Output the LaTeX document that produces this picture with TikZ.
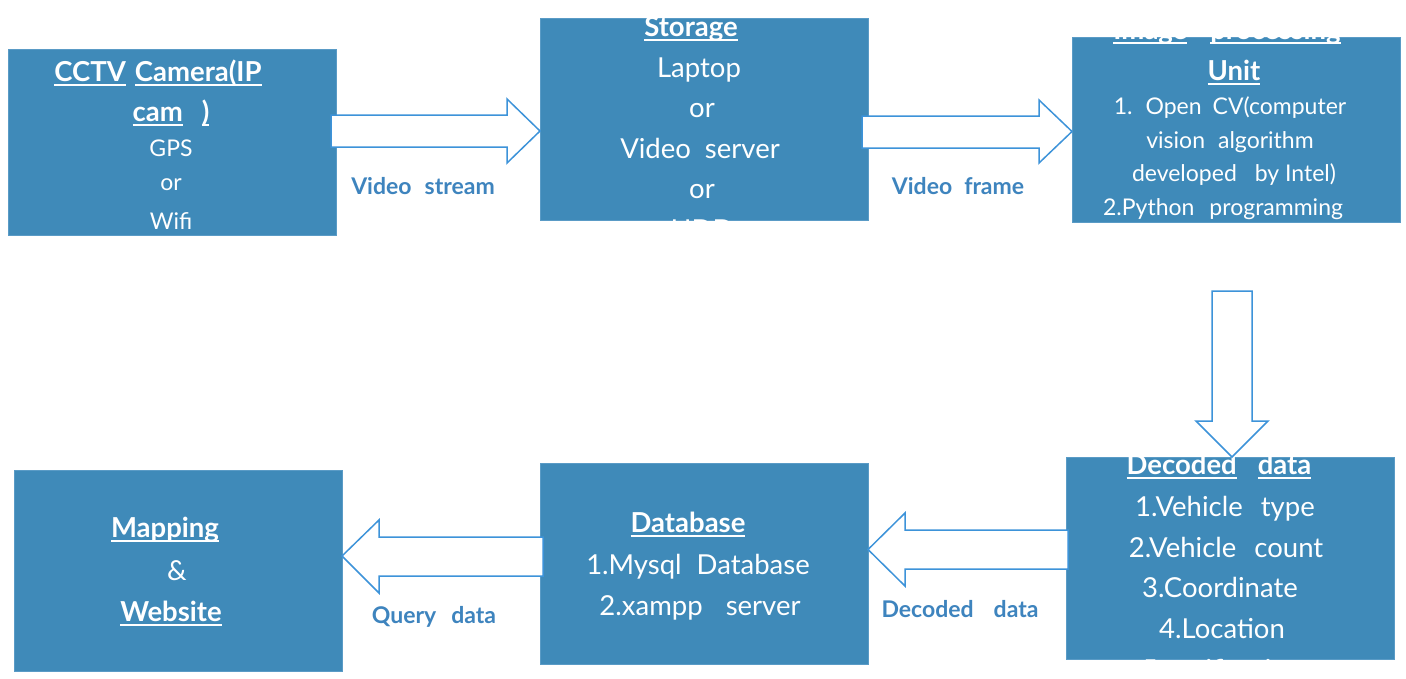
\documentclass[tikz,border=0pt]{standalone}
\usepackage{fontspec}
\setmainfont{Lato}
\usetikzlibrary{calc}
\definecolor{boxblue}{HTML}{3F8AB9}
\definecolor{boxedge}{HTML}{5A9BC6}
\definecolor{arrowblue}{HTML}{3D93D9}
\definecolor{labelblue}{HTML}{3E84BE}
\newcommand\ulw[1]{\setbox0\hbox{#1}\rlap{\rule[-4.5pt]{\wd0}{1.6pt}}\box0}
\begin{document}
\begin{tikzpicture}[x=1pt,y=-1pt,
  blk/.style={fill=boxblue,draw=boxedge,line width=0.8pt,inner sep=0pt,outer sep=0pt,anchor=north west},
  big/.style={text=white,font=\fontsize{27.5}{30}\selectfont,anchor=base,inner sep=0pt},
  bigb/.style={text=white,font=\fontsize{27.5}{30}\selectfont\bfseries,anchor=base,inner sep=0pt},
  small/.style={text=white,font=\fontsize{23}{26}\selectfont,anchor=base,inner sep=0pt},
  lbl/.style={text=labelblue,font=\fontsize{23}{25}\selectfont\bfseries,anchor=base,inner sep=0pt},
  barrow/.style={draw=arrowblue,fill=white,line width=1.5pt,line join=miter}]
\useasboundingbox (0,0) rectangle (1406,678);
\fill[white] (0,0) rectangle (1406,678);

% boxes
\node[blk,minimum width=328pt,minimum height=186pt] (cctv) at (8,49) {};
\node[blk,minimum width=328pt,minimum height=202pt] (stor) at (540,18) {};
\node[blk,minimum width=328pt,minimum height=185pt] (imgp) at (1072,37) {};
\node[blk,minimum width=328pt,minimum height=202pt] (deco) at (1066,457) {};
\node[blk,minimum width=328pt,minimum height=201pt] (dbase) at (540,463) {};
\node[blk,minimum width=328pt,minimum height=201pt] (mapw) at (14,470) {};

% CCTV text
\begin{scope}
\clip (cctv.south west) rectangle (cctv.north east);
\node[bigb] (cctv1) at (158,81) {\ulw{CCTV}\hspace{9pt}\ulw{Camera(IP}};
\node[bigb] (cctv2) at (171,121) {\ulw{cam}\hspace{19pt}\ulw{)}};
\node[small] (cctv3) at (171,156) {GPS};
\node[small] (cctv4) at (171,190) {or};
\node[small] (cctv5) at (171,229) {Wifi};
\end{scope}

% Storage text
\begin{scope}
\clip (stor.south west) rectangle (stor.north east);
\node[bigb] (stor1) at (691,36) {\ulw{Storage}};
\node[big] (stor2) at (699,77) {Laptop};
\node[big] (stor3) at (702,117) {or};
\node[big] (stor4) at (700,158) {Video\hspace{14pt}server};
\node[big] (stor5) at (702,198) {or};
\node[big] (stor6) at (702,239) {HDD};
\end{scope}

% Image processing text
\begin{scope}
\clip (imgp.south west) rectangle (imgp.north east);
\node[bigb] (imgp1) at (1227,39) {\ulw{Image}\hspace{23pt}\ulw{processing}};
\node[bigb] (imgp2) at (1234,80) {\ulw{Unit}};
\node[small] (imgp3) at (1230,114.5) {1.\hspace{13pt}Open\hspace{11pt}CV(computer};
\node[small] (imgp4) at (1230,148) {vision\hspace{13pt}algorithm};
\node[small] (imgp5) at (1234,181.5) {developed\hspace{18pt}by Intel)};
\node[small] (imgp6) at (1223,215) {2.Python\hspace{15pt}programming};
\end{scope}

% Decoded data text
\begin{scope}
\clip (deco.south west) rectangle (deco.north east);
\node[bigb] (deco1) at (1219,474) {\ulw{Decoded}\hspace{21pt}\ulw{data}};
\node[big] (deco2) at (1225,516) {1.Vehicle\hspace{18pt}type};
\node[big] (deco3) at (1226,557) {2.Vehicle\hspace{18pt}count};
\node[big] (deco4) at (1220,597) {3.Coordinate};
\node[big] (deco5) at (1222,638) {4.Location};
\node[big] (deco6) at (1222,679) {5.notification};
\end{scope}

% Database text
\begin{scope}
\clip (dbase.south west) rectangle (dbase.north east);
\node[bigb] (db1) at (688,532) {\ulw{Database}};
\node[big] (db2) at (698,574) {1.Mysql\hspace{15pt}Database};
\node[big] (db3) at (700,615) {2.xampp\hspace{23pt}server};
\end{scope}

% Mapping text
\begin{scope}
\clip (mapw.south west) rectangle (mapw.north east);
\node[bigb] (map1) at (165,537) {\ulw{Mapping}};
\node[big] (map2) at (177,580) {\&};
\node[bigb] (map3) at (171,621) {\ulw{Website}};
\end{scope}

% block arrows
\coordinate (t1) at (stor.west |- 0,131);
\coordinate (t2) at (imgp.west |- 0,131.5);
\coordinate (t3) at (deco.north -| 1232,0);
\coordinate (t4) at (dbase.east |- 0,549.5);
\coordinate (t5) at (mapw.east |- 0,556);
\draw[barrow] (331,115) -- (507,115) -- (507,99) -- (t1) -- (507,163) -- (507,147) -- (331,147) -- cycle;
\draw[barrow] (862,116) -- (1039,116) -- (1039,100) -- (t2) -- (1039,163) -- (1039,148) -- (862,148) -- cycle;
\draw[barrow] (1212,291) -- (1252,291) -- (1252,421) -- (1268,421) -- (t3) -- (1196,421) -- (1212,421) -- cycle;
\draw[barrow] (1068,530) -- (905,530) -- (905,513) -- (t4) -- (905,586) -- (905,569) -- (1068,569) -- cycle;
\draw[barrow] (543,537) -- (379,537) -- (379,520) -- (t5) -- (379,593) -- (379,576) -- (543,576) -- cycle;

% labels
\node[lbl] (l1) at (423,194) {Video\hspace{13pt}stream};
\node[lbl] (l2) at (958,194) {Video\hspace{12pt}frame};
\node[lbl] (l3) at (434,623) {Query\hspace{15pt}data};
\node[lbl] (l4) at (960,617) {Decoded\hspace{20pt}data};
\end{tikzpicture}
\end{document}
